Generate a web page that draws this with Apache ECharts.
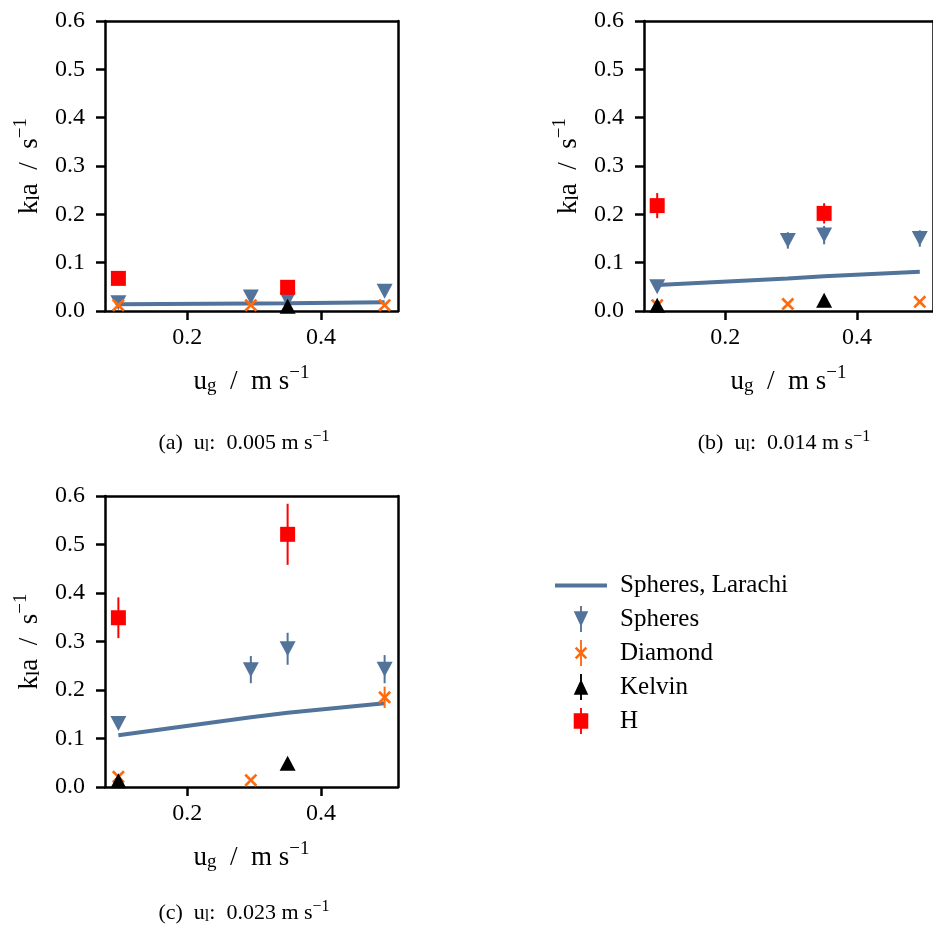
<!DOCTYPE html>
<html><head><meta charset="utf-8">
<script src="https://cdn.jsdelivr.net/npm/echarts@6/dist/echarts.min.js"></script>
<style>html,body{margin:0;padding:0;background:#fff}#c{width:933px;height:930px}</style>
</head><body><div id="c"></div>
<script>
const FONT = 'Liberation Serif';
const BLUE = '#52739a';
const ORANGE = '#ff6a0e';
const RED = '#ff0000';
const BLACK = '#000000';

// axes
const xRange = [0.077, 0.515];
const xTicks = [0.2, 0.4];
const yRange = [0, 0.6];
const yStep = 0.1;

// captions
const panelTags = ['(a)', '(b)', '(c)'];
const ulValues = ['0.005', '0.014', '0.023'];
const seriesNames = ['Spheres, Larachi', 'Spheres', 'Diamond', 'Kelvin', 'H'];

// u_g positions (m/s)
const ugLarachi = [0.097, 0.295, 0.35, 0.495];
const ugSpheres = [0.097, 0.295, 0.35, 0.495];
const ugDiamond = [0.097, 0.295, 0.495];
const ugKelvinA = [0.35];
const ugKelvin = [0.097, 0.35];
const ugH = [0.097, 0.35];

// panel (a): u_l = 0.005
const larachiA = [0.014, 0.0155, 0.016, 0.018];
const spheresA = [0.017, 0.029, 0.023, 0.041];
const spheresErrA = [0.002, 0.003, 0.003, 0.003];
const diamondA = [0.012, 0.012, 0.012];
const diamondErrA = [0.001, 0.001, 0.001];
const kelvinA = [0.010];
const kelvinErrA = [0.001];
const hA = [0.0675, 0.049];
const hErrA = [0.003, 0.004];

// panel (b): u_l = 0.014
const larachiB = [0.054, 0.067, 0.072, 0.081];
const spheresB = [0.050, 0.146, 0.157, 0.150];
const spheresErrB = [0.004, 0.017, 0.019, 0.017];
const diamondB = [0.012, 0.0145, 0.019];
const diamondErrB = [0.001, 0.001, 0.002];
const kelvinB = [0.012, 0.022];
const kelvinErrB = [0.001, 0.002];
const hB = [0.218, 0.202];
const hErrB = [0.026, 0.021];

// panel (c): u_l = 0.023
const larachiC = [0.1065, 0.144, 0.153, 0.1725];
const spheresC = [0.131, 0.242, 0.285, 0.243];
const spheresErrC = [0.005, 0.028, 0.033, 0.029];
const diamondC = [0.021, 0.014, 0.185];
const diamondErrC = [0.001, 0.001, 0.022];
const kelvinC = [0.013, 0.049];
const kelvinErrC = [0.001, 0.002];
const hC = [0.349, 0.521];
const hErrC = [0.042, 0.063];

const panels = [
  {ugK: ugKelvinA, lar: larachiA, sph: spheresA, sphE: spheresErrA, dia: diamondA, diaE: diamondErrA, kel: kelvinA, kelE: kelvinErrA, h: hA, hE: hErrA},
  {ugK: ugKelvin, lar: larachiB, sph: spheresB, sphE: spheresErrB, dia: diamondB, diaE: diamondErrB, kel: kelvinB, kelE: kelvinErrB, h: hB, hE: hErrB},
  {ugK: ugKelvin, lar: larachiC, sph: spheresC, sphE: spheresErrC, dia: diamondC, diaE: diamondErrC, kel: kelvinC, kelE: kelvinErrC, h: hC, hE: hErrC}
];

const grids = [
  {left: 105, top: 21, width: 293, height: 290},
  {left: 644, top: 21, width: 293, height: 290},
  {left: 105, top: 496, width: 293, height: 291}
];

const X_PATH = 'path://M0,1.75 L1.75,0 L6,4.25 L10.25,0 L12,1.75 L7.75,6 L12,10.25 L10.25,12 L6,7.75 L1.75,12 L0,10.25 L4.25,6 Z';

const subSup = {
  sub: {fontFamily: FONT, fontSize: 19, padding: [10, 0, 0, 0]},
  sup: {fontFamily: FONT, fontSize: 19, padding: [0, 0, 16, 0]}
};

function pairs(xs, ys) { return xs.map((x, i) => [x, ys[i]]); }
function errSeries(name, idx, xs, ys, es, color, z) {
  return {
    type: 'custom', name, xAxisIndex: idx, yAxisIndex: idx, z, silent: true,
    itemStyle: {color}, encode: {x: 0, y: [1, 2]},
    data: xs.map((x, i) => [x, ys[i] - es[i], ys[i] + es[i]]),
    renderItem: (params, api) => {
      const a = api.coord([api.value(0), api.value(1)]);
      const b = api.coord([api.value(0), api.value(2)]);
      return {type: 'line', shape: {x1: a[0], y1: a[1], x2: b[0], y2: b[1]}, style: {stroke: color, lineWidth: 2}};
    }
  };
}

const series = [];
panels.forEach((p, i) => {
  series.push({type: 'line', name: seriesNames[0], xAxisIndex: i, yAxisIndex: i, z: 2, showSymbol: false, symbol: 'none',
    lineStyle: {color: BLUE, width: 4}, itemStyle: {color: BLUE}, data: pairs(ugLarachi, p.lar), silent: true});
  series.push({type: 'scatter', name: seriesNames[1], xAxisIndex: i, yAxisIndex: i, z: 3, symbol: 'triangle', symbolRotate: 180,
    symbolSize: [16, 15], itemStyle: {color: BLUE, opacity: 1}, data: pairs(ugSpheres, p.sph), silent: true});
  series.push(errSeries(seriesNames[1], i, ugSpheres, p.sph, p.sphE, BLUE, 3));
  series.push({type: 'scatter', name: seriesNames[2], xAxisIndex: i, yAxisIndex: i, z: 4, symbol: X_PATH,
    symbolSize: 13, itemStyle: {color: ORANGE, opacity: 1}, data: pairs(ugDiamond, p.dia), silent: true});
  series.push(errSeries(seriesNames[2], i, ugDiamond, p.dia, p.diaE, ORANGE, 4));
  series.push({type: 'scatter', name: seriesNames[3], xAxisIndex: i, yAxisIndex: i, z: 5, symbol: 'triangle',
    symbolSize: [16, 15], itemStyle: {color: BLACK, opacity: 1}, data: pairs(p.ugK, p.kel), silent: true});
  series.push(errSeries(seriesNames[3], i, p.ugK, p.kel, p.kelE, BLACK, 5));
  series.push({type: 'scatter', name: seriesNames[4], xAxisIndex: i, yAxisIndex: i, z: 6, symbol: 'rect',
    symbolSize: 15, itemStyle: {color: RED, opacity: 1}, data: pairs(ugH, p.h), silent: true});
  series.push(errSeries(seriesNames[4], i, ugH, p.h, p.hE, RED, 6));
});

const xAxes = grids.map((g, i) => ({
  type: 'value', gridIndex: i, min: xRange[0], max: xRange[1],
  axisLine: {show: true, onZero: false, lineStyle: {color: '#000', width: 2.5}},
  axisTick: {show: true, length: 9, lineStyle: {color: '#000', width: 2.5}, customValues: xTicks},
  axisLabel: {customValues: xTicks, margin: 15, color: '#000', fontFamily: FONT, fontSize: 24, formatter: v => v.toFixed(1)},
  splitLine: {show: false},
  name: 'u{sub|g}  /  m s{sup|\u22121}', nameLocation: 'middle', nameGap: 53,
  nameTextStyle: {color: '#000', fontFamily: FONT, fontSize: 27, rich: subSup}
}));
const yAxes = grids.map((g, i) => ({
  type: 'value', gridIndex: i, min: yRange[0], max: yRange[1], interval: yStep,
  axisLine: {show: true, lineStyle: {color: '#000', width: 2.5}},
  axisTick: {show: true, length: 9, lineStyle: {color: '#000', width: 2.5}},
  axisLabel: {margin: 20, color: '#000', fontFamily: FONT, fontSize: 24, formatter: v => v.toFixed(1)},
  splitLine: {show: false},
  name: 'k{sub|l}a  /  s{sup|\u22121}', nameLocation: 'middle', nameGap: 58, nameRotate: 90,
  nameTextStyle: {color: '#000', fontFamily: FONT, fontSize: 27, rich: subSup}
}));

const capPos = [[244, 443], [784, 443], [244, 913]];
const graphic = capPos.map((c, i) => ({
  type: 'text', x: c[0], y: c[1], silent: true,
  style: {
    text: panelTags[i] + '  u{s|l}:  ' + ulValues[i] + ' m s{p|\u22121}',
    fontFamily: FONT, fontSize: 22, fill: '#000', align: 'center', verticalAlign: 'middle',
    rich: {s: {fontFamily: FONT, fontSize: 16, padding: [8, 0, 0, 0]}, p: {fontFamily: FONT, fontSize: 16, padding: [0, 0, 13, 0]}}
  }
}));

const legendIcons = [
  'path://M0,0 L52,0 L52,4 L0,4 Z',
  'path://M0,5 L14,5 L7,20 Z M6.1,0 L7.9,0 L7.9,25 L6.1,25 Z',
  'path://M1,8.25 L2.75,6.5 L7,10.75 L11.25,6.5 L13,8.25 L8.75,12.5 L13,16.75 L11.25,18.5 L7,14.25 L2.75,18.5 L1,16.75 L5.25,12.5 Z M6.1,0 L7.9,0 L7.9,25 L6.1,25 Z',
  'path://M7,5 L14,20 L0,20 Z M6.1,0 L7.9,0 L7.9,25 L6.1,25 Z',
  'path://M0,5 L14,5 L14,20 L0,20 Z M6.1,0 L7.9,0 L7.9,25 L6.1,25 Z'
];
const legendColors = [BLUE, BLUE, ORANGE, BLACK, RED];

const option = {
  animation: false,
  backgroundColor: '#fff',
  grid: grids.map(g => Object.assign({show: false, containLabel: false}, g)),
  xAxis: xAxes,
  yAxis: yAxes.concat(grids.map((g, i) => ({
    type: 'value', gridIndex: i, position: 'right', min: yRange[0], max: yRange[1],
    axisLine: {show: true, lineStyle: {color: '#000', width: 2.5}}, axisTick: {show: false}, axisLabel: {show: false}, splitLine: {show: false}
  }))),
  series: series.concat(grids.map((g, i) => ({
    type: 'line', xAxisIndex: i, yAxisIndex: 3 + i, data: [], silent: true
  }))),
  legend: {
    orient: 'vertical', left: 550, top: 568, itemWidth: 52, itemHeight: 26, itemGap: 8, selectedMode: false,
    textStyle: {fontFamily: FONT, fontSize: 25, color: '#000', padding: [0, 0, 0, 8]},
    data: seriesNames.map((n, i) => ({name: n, icon: legendIcons[i], itemStyle: {color: legendColors[i], borderWidth: 0}}))
  },
  graphic
};
// top spine via secondary x axis
option.xAxis = option.xAxis.concat(grids.map((g, i) => ({
  type: 'value', gridIndex: i, position: 'top', min: xRange[0], max: xRange[1],
  axisLine: {show: true, onZero: false, lineStyle: {color: '#000', width: 2.5}}, axisTick: {show: false}, axisLabel: {show: false}, splitLine: {show: false}
})));
option.series.forEach((s, k) => { if (k >= series.length) s.xAxisIndex = 3 + (k - series.length); });

const chart = echarts.init(document.getElementById('c'), null, {renderer: 'canvas'});
chart.setOption(option);
</script>
</body></html>
